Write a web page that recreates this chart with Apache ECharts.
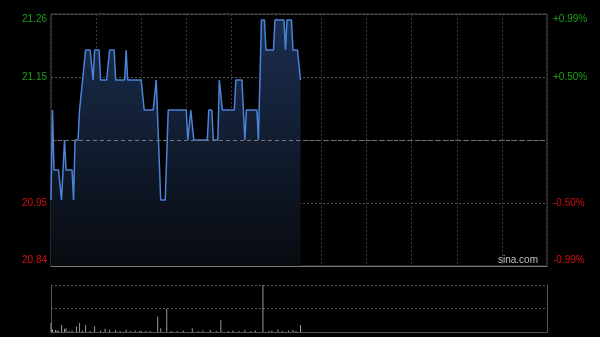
<!DOCTYPE html>
<html><head><meta charset="utf-8">
<script src="https://cdn.jsdelivr.net/npm/echarts/dist/echarts.min.js"></script>
<style>html,body{margin:0;padding:0;background:#000}#c{width:600px;height:337px}</style>
</head><body><div id="c"></div>
<script>
// minutes since open (9:30), vertices of the price line
const priceMinutes = [0,1,2,5,7,8,9,10,14,15,16,18,19,20,23,26,28,29,32,33,37,39,42,43,49,50,51,60,62,68,70,73,76,78,90,91,93,95,104,105,107,108,111,112,114,122,123,127,129,130,137,138,140,142,143,148,149,155,156,157,160,161,164,166];
const priceValues  = [20.95,21.10,21.00,21.00,20.95,20.95,21.05,21.00,21.00,20.95,21.05,21.05,21.10,21.10,21.20,21.20,21.15,21.20,21.20,21.15,21.15,21.20,21.20,21.15,21.15,21.20,21.15,21.15,21.10,21.10,21.15,20.95,20.95,21.10,21.10,21.05,21.10,21.05,21.05,21.10,21.10,21.05,21.05,21.15,21.10,21.10,21.15,21.15,21.05,21.10,21.10,21.05,21.25,21.25,21.20,21.20,21.25,21.25,21.20,21.25,21.25,21.20,21.20,21.15];
const volMinutes = [0,1,3,4,5,7,9,10,12,14,17,19,21,23,26,29,33,36,39,43,46,50,53,56,59,60,63,66,71,73,77,80,84,88,94,98,101,106,110,113,118,121,125,129,133,136,141,145,147,151,154,158,161,163,166];
const volValues  = [19,6,4,3,2,15,7,8,2,3,12,19,3,15,2,12,3,7,5,4,2,5,2,3,2,2,2,2,33,8,49,2,2,3,8,2,3,4,2,25,2,3,2,4,2,3,100,2,3,6,2,3,4,2,15];
const leftLabels  = ['20.84','20.95','','21.15','21.26'];
const rightLabels = ['-0.99%','-0.50%','','+0.50%','+0.99%'];
const priceMin = 20.84, priceMax = 21.26, prevClose = 21.05;

const GREEN = '#16a016', RED = '#d01010';
const FONT = 'Liberation Sans, Arial, sans-serif';
function richFor(){
  return {
    tg:{color:GREEN,fontSize:10,fontFamily:FONT,padding:[10,0,0,0]},
    mg:{color:GREEN,fontSize:10,fontFamily:FONT},
    mr:{color:RED,fontSize:10,fontFamily:FONT},
    br:{color:RED,fontSize:10,fontFamily:FONT,padding:[0,0,12,0]}
  };
}
function fmt(labels){
  return function(v){
    const i = Math.round(v);
    const t = labels[i];
    if(!t) return '';
    if(i===4) return '{tg|'+t+'}';
    if(i===3) return '{mg|'+t+'}';
    if(i===1) return '{mr|'+t+'}';
    return '{br|'+t+'}';
  };
}
const chart = echarts.init(document.getElementById('c'), null, {renderer:'canvas'});
chart.setOption({
  backgroundColor:'#000',
  animation:false,
  grid:[
    {left:51,right:53,top:14,height:252,show:true,borderColor:'#4a4a4a',borderWidth:1,backgroundColor:'transparent'},
    {left:51,right:53,top:285,height:47,show:false}
  ],
  xAxis:[
    {gridIndex:0,type:'value',min:0,max:330,interval:30,axisLine:{show:false},axisTick:{show:false},axisLabel:{show:false},
     splitLine:{show:true,lineStyle:{color:'#3a3a3a',type:[2,2],width:1}}},
    {gridIndex:0,type:'value',position:'top',min:0,max:330,axisLine:{show:true,lineStyle:{color:'#777'}},axisTick:{show:false},axisLabel:{show:false},splitLine:{show:false}},
    {gridIndex:1,type:'value',min:0,max:330,axisLine:{show:true,lineStyle:{color:'#555'}},axisTick:{show:false},axisLabel:{show:false},splitLine:{show:false}}
  ],
  yAxis:[
    {gridIndex:0,type:'value',min:priceMin,max:priceMax,show:false,splitLine:{show:false}},
    {gridIndex:0,type:'value',position:'left',min:0,max:4,interval:1,axisLine:{show:false},axisTick:{show:false},
     axisLabel:{show:true,margin:4,formatter:fmt(leftLabels),rich:richFor()},
     splitLine:{show:true,lineStyle:{color:'#555',type:[2,2],width:1}}},
    {gridIndex:0,type:'value',position:'right',min:0,max:4,interval:1,axisLine:{show:false},axisTick:{show:false},
     axisLabel:{show:true,margin:6,formatter:fmt(rightLabels),rich:richFor()},splitLine:{show:false}},
    {gridIndex:1,type:'value',position:'left',min:0,max:100,interval:50,axisLine:{show:true,lineStyle:{color:'#555'}},axisTick:{show:false},axisLabel:{show:false},
     splitLine:{show:true,lineStyle:{color:'#555',type:[2,2],width:1}}},
    {gridIndex:1,type:'value',position:'right',min:0,max:100,axisLine:{show:true,lineStyle:{color:'#555'}},axisTick:{show:false},axisLabel:{show:false},splitLine:{show:false}}
  ],
  series:[
    {type:'line',xAxisIndex:0,yAxisIndex:0,data:priceMinutes.map((m,i)=>[m,priceValues[i]]),
     showSymbol:false,symbol:'none',lineStyle:{color:'#4a84d8',width:1.5},
     areaStyle:{color:new echarts.graphic.LinearGradient(0,0,0,1,[{offset:0,color:'#1b2e50'},{offset:1,color:'#080b10'}]),opacity:1},
     markLine:{silent:true,symbol:'none',animation:false,label:{show:false},
       lineStyle:{color:'#777',type:[4,3],width:1},data:[{yAxis:prevClose}]}},
    {type:'bar',xAxisIndex:2,yAxisIndex:3,data:volMinutes.map((m,i)=>[m,volValues[i]]),barWidth:1,itemStyle:{color:'#999'}}
  ],
  graphic:[
    {type:'text',left:498,top:255,style:{text:'sina.com',fill:'#c0c0c0',font:'10px '+FONT}}
  ]
});
</script></body></html>
